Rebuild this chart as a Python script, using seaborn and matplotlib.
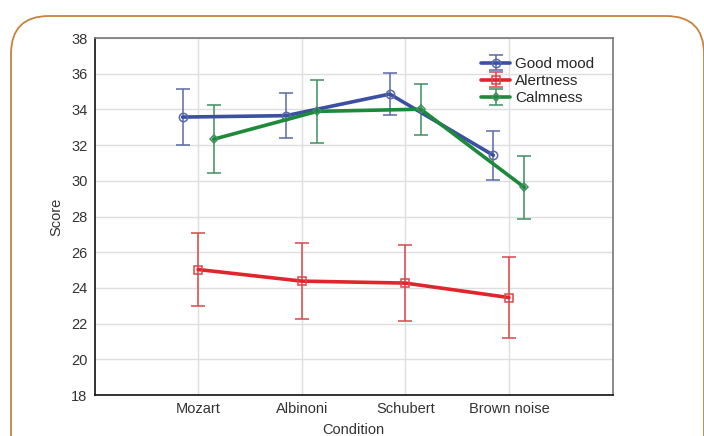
import numpy as np
import pandas as pd
import seaborn as sns
import matplotlib
matplotlib.use("Agg")
import matplotlib.pyplot as plt
from matplotlib.patches import FancyBboxPatch
from matplotlib.legend_handler import HandlerTuple

# Mean scores and error half-widths per condition
conditions = ["Mozart", "Albinoni", "Schubert", "Brown noise"]
measures = ["Good mood", "Alertness", "Calmness"]
good_mood = [33.57, 33.65, 34.86, 31.43]
good_mood_err = [1.55, 1.28, 1.20, 1.37]
alertness = [25.03, 24.38, 24.27, 23.46]
alertness_err = [2.07, 2.15, 2.13, 2.29]
calmness = [32.33, 33.89, 34.01, 29.63]
calmness_err = [1.92, 1.75, 1.43, 1.78]

sns.set_theme(style="whitegrid")
plt.rcParams["font.family"] = ["Liberation Sans", "DejaVu Sans"]

rows = []
for name, vals, errs in [("Good mood", good_mood, good_mood_err),
                         ("Alertness", alertness, alertness_err),
                         ("Calmness", calmness, calmness_err)]:
    for i, (c, v, e) in enumerate(zip(conditions, vals, errs)):
        rows.append({"condition": c, "idx": i, "measure": name, "score": v, "err": e})
df = pd.DataFrame(rows)

styles = {
    "Good mood": dict(line="#3b4fa3", err="#5a6aa6", marker="o", ms=6, offset=-0.15),
    "Alertness": dict(line="#e0262c", err="#d9474c", marker="s", ms=6, offset=0.0),
    "Calmness": dict(line="#1c8a3a", err="#3f8f5f", marker="D", ms=4, offset=0.15),
}

fig = plt.figure(figsize=(7.04, 4.36), dpi=100)
ax = fig.add_axes([94.5 / 704, 41 / 436, 518 / 704, 357 / 436])

handles = []
for m in measures:
    st = styles[m]
    sub = df[df["measure"] == m].copy()
    sub["x"] = sub["idx"] + st["offset"]
    eb = ax.errorbar(sub["x"], sub["score"], yerr=sub["err"], fmt="none",
                     ecolor=st["err"], elinewidth=1.1, capsize=5, capthick=1.1, zorder=3)
    sns.lineplot(data=sub, x="x", y="score", ax=ax, color=st["line"], linewidth=2.6,
                 marker=st["marker"], markersize=st["ms"], markerfacecolor="none",
                 markeredgecolor=st["err"], markeredgewidth=1.1, zorder=4,
                 legend=False, errorbar=None, sort=False)
    handles.append((eb, ax.lines[-1]))

ax.set_xlim(-1, 4)
ax.set_ylim(18, 38)
ax.set_yticks(np.arange(18, 39, 2))
ax.set_xticks(range(len(conditions)))
ax.set_xticklabels(conditions)
ax.set_xlabel("Condition", fontsize=10.5, color="#333333", labelpad=5)
ax.set_ylabel("Score", fontsize=10.5, color="#333333", labelpad=6)
ax.tick_params(axis="both", labelsize=10.5, labelcolor="#333333", length=0, pad=5)

ax.grid(True, color="#dedede", linewidth=1)
for side in ["left", "bottom"]:
    ax.spines[side].set_color("#111111")
    ax.spines[side].set_linewidth(1.2)
for side in ["top", "right"]:
    ax.spines[side].set_color("#777777")
    ax.spines[side].set_linewidth(1.2)
ax.set_facecolor("white")

ax.legend(handles=handles, labels=measures, loc="upper left",
          bbox_to_anchor=(0.72, 0.985), frameon=False, fontsize=11,
          handlelength=1.9, handletextpad=0.3, labelspacing=0.2,
          handler_map={tuple: HandlerTuple(ndivide=1)})

# Rounded orange frame around the figure, laid out in inches
frame = FancyBboxPatch((0.11, -1.0), 6.93, 4.20 + 1.0,
                       boxstyle="round,pad=0,rounding_size=0.38",
                       transform=fig.dpi_scale_trans, fill=False,
                       edgecolor="#c4843e", linewidth=1.3, clip_on=False)
fig.patches.append(frame)

fig.savefig("out.png", dpi=100, facecolor="white")
